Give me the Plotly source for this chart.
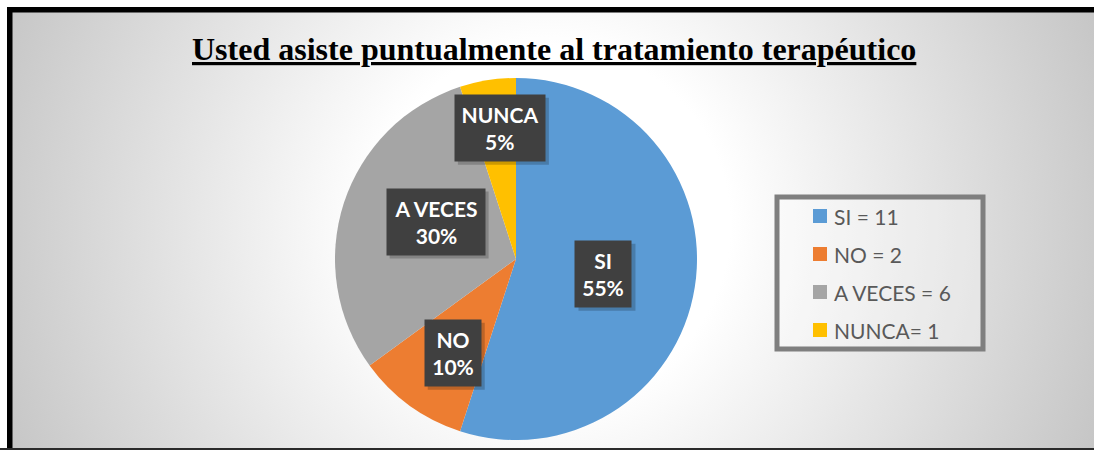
import base64
import math
import plotly.graph_objects as go

# ---------------- data ----------------
categories = ["SI", "NO", "A VECES", "NUNCA"]
counts = [11, 2, 6, 1]
legend_prefixes = ["SI = ", "NO = ", "A VECES = ", "NUNCA= "]
title_text = "Usted asiste puntualmente al tratamiento terapéutico"

# ---------------- style ----------------
colors = ["#5B9BD5", "#ED7D31", "#A5A5A5", "#FFC000"]
label_radius_frac = [0.49, 0.625, 0.49, 0.73]
label_angle_nudge = [0.5, -2.0, 7.0, 2.0]
label_inner_w = [44, 44, 86, 78]
LABEL_INNER_H = 54
LABEL_PAD = 6

W, H = 1094, 450


def px(x):
    return x / W


def py(y):
    return 1 - y / H


CX, CY, R = 516, 259, 181

fig = go.Figure(
    go.Pie(
        labels=categories,
        values=counts,
        sort=False,
        direction="clockwise",
        rotation=0,
        marker=dict(colors=colors, line=dict(width=0)),
        textinfo="none",
        hoverinfo="label+value+percent",
        domain=dict(x=[px(CX - R), px(CX + R)], y=[py(CY + R), py(CY - R)]),
        showlegend=False,
    )
)

annotations = []
shapes = []
total = sum(counts)
cum = 0
for i, (cat, v) in enumerate(zip(categories, counts)):
    mid = (cum + v / 2) / total * 360 + label_angle_nudge[i]
    cum += v
    rad = math.radians(mid)
    f = label_radius_frac[i]
    lx = CX + f * R * math.sin(rad)
    ly = CY - f * R * math.cos(rad)
    pct = round(v / total * 100)
    txt = f"<b>{cat}</b><br><b>{pct}%</b>"
    bw = label_inner_w[i] + 2 * LABEL_PAD
    bh = LABEL_INNER_H + 2 * LABEL_PAD
    # soft shadow behind the label box
    shapes.append(dict(
        type="rect", xref="paper", yref="paper",
        x0=px(lx - bw / 2 + 3), x1=px(lx + bw / 2 + 4),
        y0=py(ly + bh / 2 + 4), y1=py(ly - bh / 2 + 3),
        line=dict(width=0), fillcolor="rgba(0,0,0,0.2)", layer="above",
    ))
    annotations.append(dict(
        x=px(lx), y=py(ly), xref="paper", yref="paper", showarrow=False,
        xanchor="center", yanchor="middle",
        text=txt, width=label_inner_w[i], height=LABEL_INNER_H,
        align="center", valign="middle",
        font=dict(family="Lato", size=21, color="white"),
        bgcolor="#404040", borderpad=LABEL_PAD,
    ))

# title
annotations.append(dict(
    x=px(554), y=py(49), xref="paper", yref="paper", showarrow=False,
    text=f"<b><u>{title_text}</u></b>",
    font=dict(family="Liberation Serif", size=32, color="black"),
    xanchor="center", yanchor="middle",
))

# legend box
shapes.append(dict(type="rect", xref="paper", yref="paper",
                   x0=px(777), x1=px(983), y0=py(349), y1=py(197),
                   line=dict(color="#7f7f7f", width=5),
                   fillcolor="rgba(255,255,255,0.3)", layer="above"))
for i, (pref, v) in enumerate(zip(legend_prefixes, counts)):
    yc = 216 + i * 38
    shapes.append(dict(type="rect", xref="paper", yref="paper",
                       x0=px(813), x1=px(827), y0=py(yc + 7), y1=py(yc - 7),
                       line=dict(width=0), fillcolor=colors[i], layer="above"))
    annotations.append(dict(
        x=px(832), y=py(yc), xref="paper", yref="paper", showarrow=False,
        text=f"{pref}{v}", xanchor="left", yanchor="middle",
        font=dict(family="Lato", size=21, color="#595959"),
    ))

# frame
shapes.append(dict(type="rect", xref="paper", yref="paper",
                   x0=px(9.75), x1=px(1120), y0=py(480), y1=py(9.75),
                   line=dict(color="black", width=5.5), layer="above"))
shapes.append(dict(type="line", xref="paper", yref="paper",
                   x0=0, x1=1, y0=py(449), y1=py(449),
                   line=dict(color="#2b2b2b", width=2), layer="above"))

svg = (
    '<svg xmlns="http://www.w3.org/2000/svg" width="1094" height="450" '
    'viewBox="0 0 1094 450" preserveAspectRatio="none">'
    '<defs><radialGradient id="g" gradientUnits="userSpaceOnUse" cx="550" cy="225" r="600">'
    '<stop offset="0.3" stop-color="#ffffff"/><stop offset="1" stop-color="#c4c4c4"/>'
    '</radialGradient></defs>'
    '<rect width="1094" height="450" fill="#ffffff"/>'
    '<rect x="12" y="12" width="1082" height="436" fill="url(#g)"/>'
    '</svg>'
)
src = "data:image/svg+xml;base64," + base64.b64encode(svg.encode("utf-8")).decode("ascii")

fig.update_layout(
    width=W, height=H,
    margin=dict(l=0, r=0, t=0, b=0),
    paper_bgcolor="white",
    plot_bgcolor="white",
    showlegend=False,
    annotations=annotations,
    shapes=shapes,
    images=[dict(source=src, xref="paper", yref="paper", x=0, y=1,
                 sizex=1, sizey=1, sizing="stretch", xanchor="left",
                 yanchor="top", layer="below")],
)

fig.write_html(
    "out.html",
    config={"displayModeBar": False},
    post_script="document.body.style.margin='0';document.body.style.overflow='hidden';",
)
